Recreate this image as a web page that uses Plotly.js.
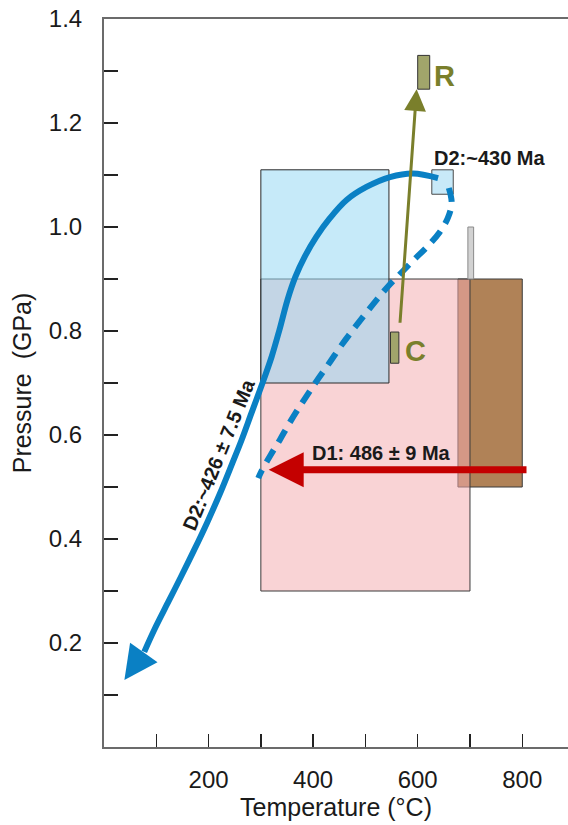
<!DOCTYPE html>
<html>
<head>
<meta charset="utf-8">
<script src="https://cdn.plot.ly/plotly-3.0.1.min.js"></script>
<style>
  html, body { margin: 0; padding: 0; background: #ffffff; }
  #chart { width: 568px; height: 825px; }
</style>
</head>
<body>
<div id="chart"></div>
<script>
// ---------- DATA ----------
// Axis ticks
const xTickVals = [100, 200, 300, 400, 500, 600, 700, 800];
const xTickText = ['', '200', '', '400', '', '600', '', '800'];
const yTickVals = [0.1, 0.2, 0.3, 0.4, 0.5, 0.6, 0.7, 0.8, 0.9, 1.0, 1.1, 1.2, 1.3, 1.4];
const yTickText = ['', '0.2', '', '0.4', '', '0.6', '', '0.8', '', '1.0', '', '1.2', '', '1.4'];

// D2 P-T path (solid part), temperature (°C) and pressure (GPa)
const solidT = [639, 591, 547, 502, 464, 432, 406, 384, 366, 351, 335.5, 320.5, 302.5, 282, 263, 245.5, 222, 197, 172.5, 147, 122, 96, 77];
const solidP = [1.094, 1.103, 1.096, 1.077, 1.052, 1.017, 0.981, 0.943, 0.904, 0.860, 0.802, 0.750, 0.698, 0.642, 0.590, 0.546, 0.488, 0.431, 0.379, 0.327, 0.277, 0.225, 0.183];
// D2 arrow tip
const tipT = 39;
const tipP = 0.129;

// Dashed path
const dashT = [659.5, 665, 657.5, 642, 619, 594, 569.5, 544.5, 521.5, 498.5, 476, 453, 432, 411, 391.5, 372.5, 353.5, 336, 319, 301.5, 295];
const dashP = [1.075, 1.046, 1.017, 0.990, 0.963, 0.938, 0.913, 0.887, 0.860, 0.831, 0.802, 0.771, 0.740, 0.710, 0.681, 0.652, 0.621, 0.590, 0.562, 0.531, 0.517];

// D1 arrow (start -> tip)
const d1T = [811, 315];
const d1P = [0.533, 0.533];

// C -> R arrow (start -> tip)
const crT = [566, 598];
const crP = [0.813, 1.265];

// P-T boxes
const boxNames = ['brown', 'pink', 'blue', 'grayBar', 'd2Box', 'rBox', 'cBox'];
const boxT0 = [677, 300, 300, 696, 627, 600, 548];
const boxT1 = [800, 700, 545, 707, 668, 623, 564];
const boxP0 = [0.5, 0.3, 0.7, 0.9, 1.063, 1.265, 0.738];
const boxP1 = [0.9, 0.9, 1.11, 1.0, 1.11, 1.33, 0.798];

// Text labels
const labelText = ['D2:~430 Ma', 'D1: 486 ± 9 Ma', 'D2:~426 ± 7.5 Ma', 'R', 'C'];
const labelT = [738, 530, 219, 652, 596];
const labelP = [1.133, 0.565, 0.562, 1.291, 0.762];

// ---------- STYLES ----------
const BLUE = '#0a80c4';
const OLIVE = '#7a7f2b';
const RED = '#c40000';
const TEXT = '#1a1a1a';
const FONT = '"Liberation Sans", Arial, Helvetica, sans-serif';

const boxFill = {
  brown: '#b08257',
  pink: 'rgba(244,172,176,0.53)',
  blue: 'rgba(147,215,244,0.53)',
  grayBar: '#d2d2d2',
  d2Box: '#c8e9f8',
  rBox: '#a1a56b',
  cBox: '#a1a56b'
};
const boxLine = {
  brown: '#3a3a3a',
  pink: '#3a3a3a',
  blue: '#2a2a2a',
  grayBar: '#8a8a8a',
  d2Box: '#4a4a4a',
  rBox: '#333333',
  cBox: '#333333'
};

const labelStyle = [
  {size: 20, color: TEXT, angle: 0},
  {size: 20, color: TEXT, angle: 0},
  {size: 20, color: TEXT, angle: -68},
  {size: 29, color: OLIVE, angle: 0},
  {size: 29, color: OLIVE, angle: 0}
];

// ---------- BUILD ----------
const shapes = boxNames.map((n, i) => ({
  type: 'rect', xref: 'x', yref: 'y', layer: 'below',
  x0: boxT0[i], x1: boxT1[i], y0: boxP0[i], y1: boxP1[i],
  fillcolor: boxFill[n],
  line: {color: boxLine[n], width: 1}
}));

const traces = [
  {
    x: dashT, y: dashP, type: 'scatter', mode: 'lines',
    line: {color: BLUE, width: 6, dash: '14px,9px', shape: 'spline', smoothing: 1},
    hoverinfo: 'skip', showlegend: false
  },
  {
    x: solidT, y: solidP, type: 'scatter', mode: 'lines',
    line: {color: BLUE, width: 6, shape: 'spline', smoothing: 1},
    hoverinfo: 'skip', showlegend: false
  }
];

const annotations = [];
// arrowheads
annotations.push({
  x: tipT, y: tipP, ax: solidT[solidT.length - 1], ay: solidP[solidP.length - 1],
  xref: 'x', yref: 'y', axref: 'x', ayref: 'y', text: '', showarrow: true,
  arrowhead: 2, arrowsize: 1.12, arrowwidth: 6, arrowcolor: BLUE, standoff: 0
});
annotations.push({
  x: d1T[1], y: d1P[1], ax: d1T[0], ay: d1P[0],
  xref: 'x', yref: 'y', axref: 'x', ayref: 'y', text: '', showarrow: true,
  arrowhead: 2, arrowsize: 1, arrowwidth: 7, arrowcolor: RED, standoff: 0
});
annotations.push({
  x: crT[1], y: crP[1], ax: crT[0], ay: crP[0],
  xref: 'x', yref: 'y', axref: 'x', ayref: 'y', text: '', showarrow: true,
  arrowhead: 2, arrowsize: 1.45, arrowwidth: 3, arrowcolor: OLIVE, standoff: 0
});
labelText.forEach((t, i) => {
  annotations.push({
    x: labelT[i], y: labelP[i], xref: 'x', yref: 'y',
    text: '<b>' + t + '</b>', showarrow: false,
    xanchor: 'center', yanchor: 'middle', textangle: labelStyle[i].angle,
    font: {family: FONT, size: labelStyle[i].size, color: labelStyle[i].color}
  });
});

const layout = {
  width: 568, height: 825,
  margin: {l: 104, r: 0, t: 19, b: 78, pad: 0},
  paper_bgcolor: '#ffffff', plot_bgcolor: '#ffffff',
  showlegend: false,
  font: {family: FONT, color: TEXT},
  xaxis: {
    range: [0, 887.5], autorange: false,
    tickmode: 'array', tickvals: xTickVals, ticktext: xTickText,
    ticks: 'inside', ticklen: 13, tickwidth: 1.5, tickcolor: '#222',
    showline: true, linecolor: '#6b6b6b', linewidth: 2, mirror: true,
    showgrid: false, zeroline: false,
    tickfont: {family: FONT, size: 24, color: TEXT},
    ticklabelstandoff: 10,
    title: {text: 'Temperature (°C)', font: {family: FONT, size: 25, color: TEXT}, standoff: 4},
    automargin: false, fixedrange: true
  },
  yaxis: {
    range: [0, 1.4], autorange: false,
    tickmode: 'array', tickvals: yTickVals, ticktext: yTickText,
    ticks: 'inside', ticklen: 14, tickwidth: 1.5, tickcolor: '#222',
    showline: true, linecolor: '#6b6b6b', linewidth: 2,
    showgrid: false, zeroline: false,
    tickfont: {family: FONT, size: 24, color: TEXT},
    ticklabelstandoff: 15,
    title: {text: 'Pressure\u00a0 (GPa)', font: {family: FONT, size: 25, color: TEXT}, standoff: 10},
    automargin: false, fixedrange: true
  },
  shapes: shapes,
  annotations: annotations
};

Plotly.newPlot('chart', traces, layout, {displayModeBar: false, staticPlot: true});
</script>
</body>
</html>
